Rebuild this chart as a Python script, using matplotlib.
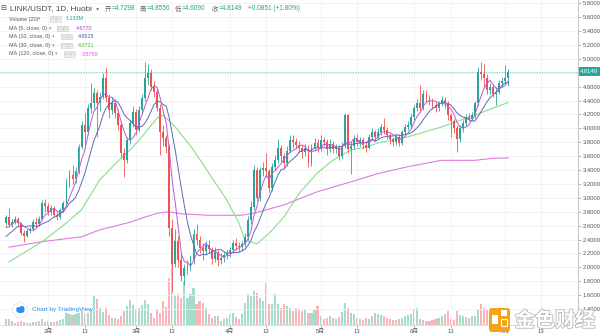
import matplotlib
matplotlib.use('Agg')
import matplotlib.pyplot as plt
import numpy as np
from matplotlib.patches import Rectangle, FancyBboxPatch, Circle, Ellipse
import matplotlib.transforms as mtransforms
import matplotlib.patheffects as pe

plt.rcParams['font.family'] = ['Liberation Sans', 'DejaVu Sans', 'Noto Sans CJK SC']

# ---------------- data (LINK/USDT 1D, Huobi, 2020-01-18 .. 2020-07-02) ----------------
first_open = 2.64
prior_closes = [2.25, 2.30, 2.28, 2.35, 2.40, 2.55, 2.48, 2.52, 2.60]  # before first candle (for MA5/10)

closes = [
    2.72, 2.61, 2.66, 2.70, 2.64, 2.50, 2.45, 2.52, 2.55, 2.66,
    2.62, 2.70, 2.93, 2.88, 2.80, 2.85, 2.76, 2.73, 2.82, 2.92,
    3.22, 3.33, 3.27, 3.38, 3.73, 4.05, 3.95, 4.30, 4.36, 4.51,
    4.36, 4.45, 4.72, 4.44, 4.27, 4.36, 4.22, 4.05, 3.64, 3.55,
    3.83, 4.08, 4.23, 3.98, 4.26, 4.44, 4.72, 4.80, 4.60, 4.52,
    4.30, 3.95, 3.86, 3.73, 2.56, 2.05, 2.38, 2.10, 1.88, 1.99,
    2.02, 2.10, 2.48, 2.40, 2.28, 2.24, 2.32, 2.27, 2.12, 2.22,
    2.10, 2.14, 2.18, 2.20, 2.25, 2.35, 2.31, 2.29, 2.33, 2.44,
    2.68, 2.87, 3.40, 3.00, 3.40, 3.43, 3.38, 3.14, 3.45, 3.55,
    3.72, 3.60, 3.50, 3.68, 3.83, 3.80, 3.76, 3.72, 3.66, 3.72,
    3.50, 3.72, 3.79, 3.72, 3.83, 3.80, 3.70, 3.78, 3.70, 3.72,
    3.60, 3.75, 4.19, 3.70, 3.75, 3.85, 3.80, 3.83, 3.76, 3.72,
    3.88, 3.95, 3.88, 3.95, 4.02, 3.98, 3.90, 3.84, 3.80, 3.88,
    3.79, 3.95, 4.02, 4.05, 4.17, 4.29, 4.36, 4.30, 4.50, 4.44,
    4.39, 4.34, 4.29, 4.36, 4.41, 4.36, 4.19, 4.10, 4.00, 3.84,
    4.00, 4.08, 4.17, 4.14, 4.19, 4.36, 4.81, 4.78, 4.72, 4.55,
    4.60, 4.50, 4.53, 4.65, 4.68, 4.7298, 4.8149,
]
highs = [
    2.76, 2.85, 2.70, 2.74, 2.72, 2.66, 2.54, 2.55, 2.58, 2.69,
    2.72, 2.74, 2.97, 2.98, 2.92, 2.90, 2.88, 2.80, 2.86, 2.96,
    3.28, 3.40, 3.47, 3.45, 3.78, 4.10, 4.22, 4.35, 4.65, 4.58,
    4.55, 4.52, 4.80, 4.88, 4.50, 4.45, 4.42, 4.28, 4.10, 3.72,
    3.88, 4.12, 4.32, 4.28, 4.32, 4.50, 4.96, 4.92, 4.85, 4.68,
    4.58, 4.35, 4.05, 3.90, 3.78, 2.70, 2.55, 2.45, 2.20, 2.05,
    2.10, 2.18, 2.55, 2.62, 2.45, 2.35, 2.38, 2.40, 2.30, 2.30,
    2.25, 2.20, 2.22, 2.26, 2.30, 2.40, 2.42, 2.36, 2.38, 2.50,
    2.74, 2.95, 3.48, 3.45, 3.45, 3.52, 3.64, 3.42, 3.50, 3.62,
    3.85, 3.76, 3.65, 3.74, 3.90, 3.90, 3.86, 3.82, 3.78, 3.78,
    3.76, 3.78, 3.86, 3.84, 3.90, 3.88, 3.84, 3.84, 3.82, 3.78,
    3.76, 3.80, 4.22, 4.20, 3.80, 3.90, 3.92, 3.88, 3.88, 3.80,
    3.92, 4.00, 3.98, 4.00, 4.06, 4.15, 4.02, 3.94, 3.88, 3.92,
    3.92, 3.98, 4.06, 4.10, 4.22, 4.34, 4.42, 4.62, 4.55, 4.55,
    4.48, 4.44, 4.38, 4.40, 4.46, 4.45, 4.40, 4.22, 4.14, 4.05,
    4.05, 4.12, 4.20, 4.22, 4.24, 4.40, 4.88, 4.95, 4.92, 4.78,
    4.66, 4.64, 4.60, 4.70, 4.74, 4.91, 4.8556,
]
lows = [
    2.60, 2.58, 2.58, 2.63, 2.60, 2.47, 2.37, 2.43, 2.49, 2.53,
    2.58, 2.60, 2.68, 2.80, 2.76, 2.76, 2.72, 2.68, 2.70, 2.79,
    2.90, 3.15, 3.20, 3.22, 3.35, 3.70, 3.72, 3.90, 4.22, 4.28,
    3.88, 4.25, 4.42, 4.38, 4.15, 4.20, 4.15, 3.98, 3.58, 3.30,
    3.50, 3.78, 4.02, 3.90, 3.95, 4.20, 4.40, 4.62, 4.55, 4.45,
    4.25, 3.62, 3.75, 3.65, 2.45, 1.65, 2.00, 2.00, 1.80, 1.75,
    1.90, 1.95, 2.05, 2.32, 2.20, 2.10, 2.18, 2.20, 2.05, 2.08,
    2.02, 2.05, 2.08, 2.12, 2.15, 2.20, 2.25, 2.22, 2.24, 2.30,
    2.40, 2.62, 2.82, 2.95, 2.96, 3.32, 3.30, 3.08, 3.10, 3.40,
    3.50, 3.52, 3.42, 3.46, 3.64, 3.72, 3.70, 3.66, 3.58, 3.60,
    3.44, 3.46, 3.68, 3.66, 3.68, 3.74, 3.62, 3.66, 3.64, 3.65,
    3.55, 3.56, 3.72, 3.65, 3.35, 3.70, 3.74, 3.74, 3.70, 3.66,
    3.70, 3.84, 3.82, 3.84, 3.90, 3.92, 3.84, 3.78, 3.74, 3.76,
    3.74, 3.76, 3.92, 3.98, 4.02, 4.12, 4.25, 4.24, 4.26, 4.38,
    4.34, 4.28, 4.24, 4.25, 4.32, 4.30, 4.12, 3.88, 3.94, 3.66,
    3.80, 3.95, 4.04, 4.10, 4.10, 4.15, 4.32, 4.70, 4.60, 4.50,
    4.50, 4.45, 4.34, 4.50, 4.60, 4.62, 4.6090,
]
volumes_m = [
    0.86, 0.86, 0.57, 0.29, 0.43, 0.57, 0.43, 0.29, 0.29, 0.43,
    0.43, 0.57, 0.86, 0.43, 0.57, 0.43, 0.43, 0.57, 0.71, 0.86,
    1.71, 1.57, 1.43, 1.57, 1.71, 2.00, 1.57, 1.71, 2.14, 4.29,
    3.71, 2.43, 1.86, 2.43, 1.43, 1.00, 1.00, 0.86, 1.29, 2.00,
    2.71, 3.57, 2.86, 2.29, 2.43, 2.86, 3.57, 3.00, 1.71, 1.00,
    2.14, 1.71, 3.43, 2.57, 6.71, 10.0, 4.29, 4.43, 3.86, 6.29,
    3.86, 4.43, 5.29, 3.00, 3.43, 3.14, 2.43, 1.57, 1.00, 1.29,
    1.29, 0.57, 0.86, 1.00, 1.57, 1.71, 1.14, 0.86, 1.57, 3.14,
    4.43, 4.14, 4.86, 4.57, 3.86, 3.43, 6.00, 3.00, 3.00, 4.43,
    3.00, 2.43, 3.00, 2.71, 2.43, 2.00, 2.43, 2.29, 2.00, 2.29,
    1.71, 1.71, 2.14, 2.71, 1.29, 0.86, 1.00, 1.29, 1.00, 0.86,
    1.14, 1.86, 3.14, 2.43, 1.71, 1.57, 1.00, 0.86, 0.71, 1.00,
    0.86, 1.29, 1.71, 1.57, 1.43, 1.29, 1.00, 0.86, 0.71, 0.71,
    0.86, 1.00, 1.29, 1.43, 1.57, 2.29, 2.43, 0.86, 0.71, 0.57,
    0.57, 0.71, 0.86, 1.00, 1.29, 1.57, 2.00, 0.86, 0.71, 2.00,
    1.43, 1.29, 1.14, 1.00, 1.29, 1.29, 2.29, 3.00, 2.43, 2.14,
    1.43, 1.71, 1.29, 1.43, 1.14, 1.29, 1.133,
]
# MA30 / MA120 (day index, value)
ma30_days = [1, 12, 20, 25, 31, 38, 41, 44, 50, 52, 56, 62, 67, 73, 77, 79, 83, 87, 92, 97,
             103, 108, 114, 119, 123, 133, 144, 155, 161, 166]
ma30_vals = [2.08, 2.37, 2.64, 2.83, 3.26, 3.57, 3.69, 3.83, 4.15, 4.19, 4.02, 3.69, 3.36, 2.97,
             2.64, 2.39, 2.34, 2.49, 2.73, 3.07, 3.36, 3.54, 3.69, 3.73, 3.79, 3.88, 4.02, 4.19,
             4.29, 4.3721]
ma120_days = [1, 12, 25, 31, 41, 45, 50, 54, 58, 67, 78, 82, 92, 103, 114, 123, 133, 144, 155, 161, 166]
ma120_vals = [2.29, 2.37, 2.44, 2.54, 2.65, 2.71, 2.78, 2.80, 2.77, 2.75, 2.75, 2.78, 2.90, 3.09,
              3.23, 3.35, 3.45, 3.54, 3.54, 3.57, 3.575]

tick_days = [14, 26, 43, 55, 74, 86, 104, 116, 135, 147, 165, 177]
tick_labels = ['2月', '13', '3月', '13', '4月', '13', '5月', '13', '6月', '13', '7月', '13']
price_ticks = [1.4, 1.6, 1.8, 2.0, 2.2, 2.4, 2.6, 2.8, 3.0, 3.2, 3.4, 3.6, 3.8, 4.0, 4.2,
               4.4, 4.6, 4.8, 5.0, 5.2, 5.4, 5.6, 5.8]
last_price = 4.8149

# ---------------- styling ----------------
UP = '#26a69a'
DN = '#ef5350'
VUP = '#a6dccb'
VDN = '#f6b5b8'
C_MA5 = '#c257d6'
C_MA10 = '#5b6cb3'
C_MA30 = '#86e086'
C_MA120 = '#e27ae2'

fig = plt.figure(figsize=(6, 3.36), dpi=100)
fig.patch.set_facecolor('white')
ax = fig.add_axes([0, 11 / 336, 578 / 600, 325 / 336])
axv = ax.twinx()
ax.set_zorder(2)
axv.set_zorder(1)
ax.patch.set_visible(False)

days = np.arange(len(closes))
c = np.array(closes)
o = np.array([first_open] + closes[:-1])
up = c >= o

# volume
axv.bar(days, volumes_m, width=0.7, color=np.where(up, VUP, VDN), linewidth=0)
axv.set_ylim(0, 46.43)
axv.set_yticks([])
for s in axv.spines.values():
    s.set_visible(False)

# grid
for p in price_ticks:
    ax.axhline(p, color='#f1f1f4', lw=0.6, zorder=0)
for t in tick_days:
    ax.axvline(t, color='#f1f1f4', lw=0.6, zorder=0)

# candles
cols = np.where(up, UP, DN)
ax.vlines(days, lows, highs, colors=cols, linewidth=0.6, zorder=3)
ax.bar(days, np.maximum(np.abs(c - o), 0.01), bottom=np.minimum(c, o), width=0.62,
       color=cols, linewidth=0, zorder=4)

# moving averages
allc = np.array(prior_closes + closes)
ma5 = np.convolve(allc, np.ones(5) / 5, mode='valid')[5:]
ma10 = np.convolve(allc, np.ones(10) / 10, mode='valid')
ax.plot(ma120_days, ma120_vals, color=C_MA120, lw=0.8, zorder=2)
ax.plot(ma30_days, ma30_vals, color=C_MA30, lw=0.8, zorder=2)
ax.plot(days, ma10, color=C_MA10, lw=0.7, zorder=5)
ax.plot(days, ma5, color=C_MA5, lw=0.7, zorder=5)

# last price line
ax.axhline(last_price, color='#7fd3bd', lw=0.8, ls=(0, (1.2, 1.2)), zorder=1)

ax.set_xlim(-1.967, 189.1)
ax.set_ylim(1.171, 5.847)

ax.yaxis.tick_right()
ax.set_yticks(price_ticks)
ax.set_yticklabels(['' if abs(p - 4.8) < 1e-6 else f'{p:.4f}' for p in price_ticks])
ax.tick_params(axis='y', direction='out', length=2, width=0.5, color='#9a9a9a',
               labelsize=4.2, labelcolor='#555555', pad=1.5)
ax.set_xticks(tick_days)
ax.set_xticklabels(tick_labels)
ax.tick_params(axis='x', direction='out', length=2, width=0.5, color='#9a9a9a',
               labelsize=4.3, labelcolor='#555555', pad=1.0)
for side in ['top', 'left']:
    ax.spines[side].set_visible(False)
ax.spines['right'].set_color('#c8c8c8')
ax.spines['right'].set_linewidth(0.8)
ax.spines['bottom'].set_color('#d8d8d8')
ax.spines['bottom'].set_linewidth(0.6)

trans = mtransforms.blended_transform_factory(ax.transAxes, ax.transData)
ax.text(1.004, last_price, f'{last_price:.4f}', transform=trans, ha='left', va='center',
        fontsize=4.2, color='white', clip_on=False, zorder=10,
        bbox=dict(boxstyle='square,pad=0.3', fc='#26a69a', ec='none'))

# ---------------- overlay (legend, logos) in pixel coords ----------------
ov = fig.add_axes([0, 0, 1, 1])
ov.set_xlim(0, 600)
ov.set_ylim(336, 0)
ov.axis('off')
ov.set_zorder(10)
ov.patch.set_alpha(0)

LBL = '#4a4a4a'
VAL = '#22a786'
ov.text(0.5, 9, '⊟', fontsize=5.0, color=LBL, va='center', ha='left')
ov.text(9.5, 9, 'LINK/USDT, 1D, Huobi', fontsize=5.9, color=LBL, va='center', ha='left')
ov.text(96, 9, '▾', fontsize=4.5, color='#888888', va='center', ha='left')
pieces = [(105, '开', '=4.7298'), (140, '高', '=4.8556'), (175, '低', '=4.6090'), (212, '收', '=4.8149')]
for x, k, v in pieces:
    ov.text(x, 9, k, fontsize=4.6, color='#666666', va='center', ha='left')
    ov.text(x + 7, 9, v, fontsize=4.7, color=VAL, va='center', ha='left')
ov.text(248, 9, '+0.0851 (+1.80%)', fontsize=4.7, color=VAL, va='center', ha='left')

rows = [
    (19.0, 'Volume (20)', 38, 50, '1.133M', 66, VAL),
    (28.3, 'MA (5, close, 0)', 49, 57, '4.6770', 76, '#a53fd8'),
    (36.7, 'MA (10, close, 0)', 52, 61, '4.6515', 78, '#3d57a8'),
    (45.3, 'MA (30, close, 0)', 52, 61, '4.3721', 78, '#35c035'),
    (54.0, 'MA (120, close, 0)', 55, 64, '3.5750', 82, '#de4fde'),
]
for y, lab, xa, xb, val, xv, vc in rows:
    ov.text(9, y, lab, fontsize=3.9, color='#555555', va='center', ha='left')
    ov.text(xa, y, '▾', fontsize=3.6, color='#999999', va='center', ha='left')
    for bx in (xb, xb + 6):
        ov.add_patch(Rectangle((bx, y - 2.6), 5, 5.2, fc='#f4f4f4', ec='#c9c9c9', lw=0.4))
        ov.add_patch(Rectangle((bx + 1.4, y - 1.2), 2.2, 2.4, fc='none', ec='#b5b5b5', lw=0.3))
    ov.text(xv, y, val, fontsize=3.9, color=vc, va='center', ha='left')

# TradingView credit
ov.add_patch(Circle((20, 310), 7.5, fc='white', ec='#e3e3e3', lw=0.6))
ov.add_patch(Ellipse((20.5, 311), 8, 4, fc='#2a8ef0', ec='none'))
ov.add_patch(Circle((18.5, 309.3), 2.3, fc='#2a8ef0', ec='none'))
ov.add_patch(Circle((21.8, 308.8), 2.8, fc='#2a8ef0', ec='none'))
ov.text(32, 310, 'Chart by TradingView', fontsize=4.6, color='#2a8ef0', va='center', ha='left')

# 金色财经 watermark
ov.add_patch(FancyBboxPatch((489, 308), 21, 24, boxstyle='round,pad=0,rounding_size=3',
                            fc='#f5a31a', ec='none'))
ov.add_patch(Rectangle((492, 315), 6, 9, fc='white', ec='none'))
ov.add_patch(Rectangle((501, 310), 6, 6, fc='white', ec='none'))
ov.add_patch(Rectangle((501, 319), 6, 7, fc='none', ec='white', lw=0.8))
ov.text(555, 320, '金色财经', fontsize=14.5, color='white', va='center', ha='center',
        family=['Noto Sans CJK SC'], fontweight='bold',
        path_effects=[pe.withStroke(linewidth=1.2, foreground='#b9b9b9')])

fig.savefig('out.png', dpi=100, facecolor='white')
